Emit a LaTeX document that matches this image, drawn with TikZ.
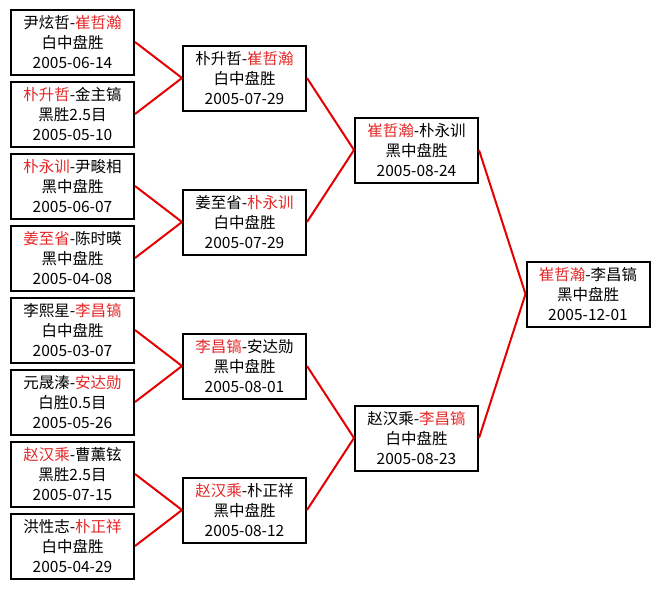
\documentclass[tikz,border=0pt]{standalone}
\usepackage{fontspec}
\setmainfont{Noto Sans CJK SC}
\definecolor{winred}{RGB}{228,40,40}
\newcommand{\win}[1]{\textcolor{winred}{#1}}
\begin{document}
\begin{tikzpicture}[x=1pt,y=-1pt]
	\tikzstyle{every node}=[font=\fontsize{15.5pt}{20pt}\selectfont]
	\tikzstyle{match}=[draw, line width=2pt, minimum width=123pt, minimum height=65pt, inner sep=0pt, align=center]
	\tikzstyle{link}=[line width=2pt, red!90!black]
	\useasboundingbox (0,0) rectangle (660,589);
	
	% first round
	\node[match] (c1a) at (72.5,42) {尹炫哲-\win{崔哲瀚}\\白中盘胜\\2005-06-14};
	\node[match] (c1b) at (72.5,114) {\win{朴升哲}-金主镐\\黑胜2.5目\\2005-05-10};
	\node[match] (c1c) at (72.5,186) {\win{朴永训}-尹畯相\\黑中盘胜\\2005-06-07};
	\node[match] (c1d) at (72.5,258) {\win{姜至省}-陈时暎\\黑中盘胜\\2005-04-08};
	\node[match] (c1e) at (72.5,330) {李熙星-\win{李昌镐}\\白中盘胜\\2005-03-07};
	\node[match] (c1f) at (72.5,402) {元晟溱-\win{安达勋}\\白胜0.5目\\2005-05-26};
	\node[match] (c1g) at (72.5,474) {\win{赵汉乘}-曹薰铉\\黑胜2.5目\\2005-07-15};
	\node[match] (c1h) at (72.5,546) {洪性志-\win{朴正祥}\\白中盘胜\\2005-04-29};
	
	% second round
	\node[match] (c2a) at (244.5,78) {朴升哲-\win{崔哲瀚}\\白中盘胜\\2005-07-29};
	\node[match] (c2b) at (244.5,222) {姜至省-\win{朴永训}\\白中盘胜\\2005-07-29};
	\node[match] (c2c) at (244.5,366) {\win{李昌镐}-安达勋\\黑中盘胜\\2005-08-01};
	\node[match] (c2d) at (244.5,510) {\win{赵汉乘}-朴正祥\\黑中盘胜\\2005-08-12};
	
	% semi-finals and final
	\node[match] (c3a) at (416.5,150) {\win{崔哲瀚}-朴永训\\黑中盘胜\\2005-08-24};
	\node[match] (c3b) at (416.5,438) {赵汉乘-\win{李昌镐}\\白中盘胜\\2005-08-23};
	\node[match] (c4) at (588,294) {\win{崔哲瀚}-李昌镐\\黑中盘胜\\2005-12-01};
	
	\draw[link] (c1a.east) -- (c2a.west);
	\draw[link] (c1b.east) -- (c2a.west);
	\draw[link] (c1c.east) -- (c2b.west);
	\draw[link] (c1d.east) -- (c2b.west);
	\draw[link] (c1e.east) -- (c2c.west);
	\draw[link] (c1f.east) -- (c2c.west);
	\draw[link] (c1g.east) -- (c2d.west);
	\draw[link] (c1h.east) -- (c2d.west);
	\draw[link] (c2a.east) -- (c3a.west);
	\draw[link] (c2b.east) -- (c3a.west);
	\draw[link] (c2c.east) -- (c3b.west);
	\draw[link] (c2d.east) -- (c3b.west);
	\draw[link] (c3a.east) -- (c4.west);
	\draw[link] (c3b.east) -- (c4.west);
	
\end{tikzpicture}
\end{document}
